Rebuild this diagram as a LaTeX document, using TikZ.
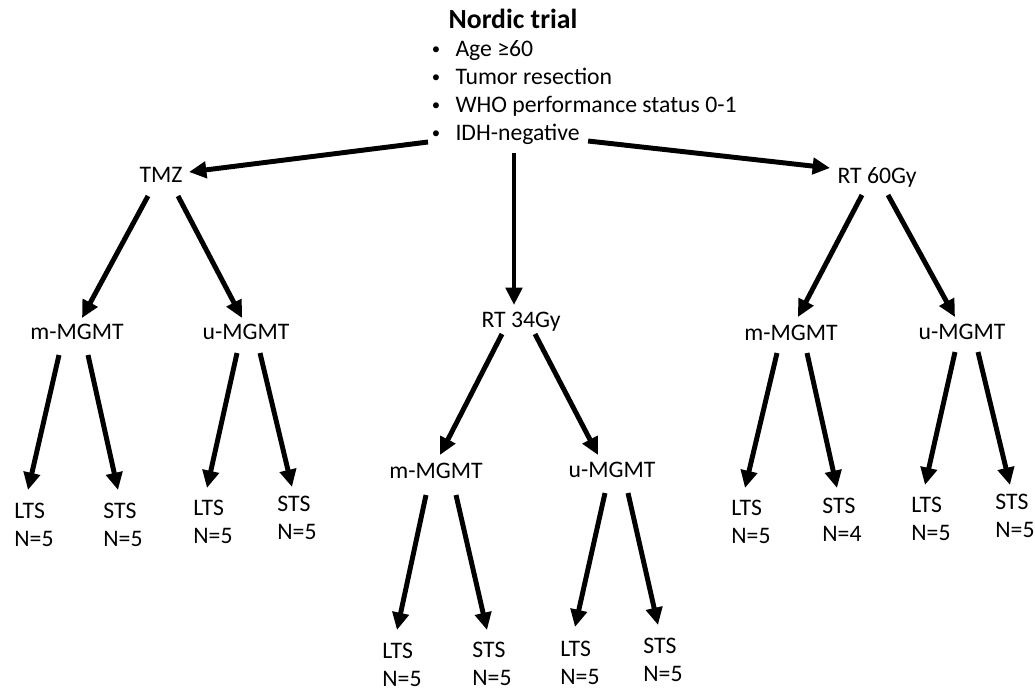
\documentclass[tikz,border=0pt]{standalone}
\usepackage{fontspec}
\setmainfont{Carlito}
\usetikzlibrary{arrows.meta}
\usetikzlibrary{calc}

\newcommand{\bul}{\makebox[12.7pt][l]{\hspace{0.8pt}\raisebox{0.9pt}{\fontsize{8.5}{8.5}\selectfont\textbullet}}}

\begin{document}
\begin{tikzpicture}[x=0.506pt, y=-0.506pt,
        font=\fontsize{12}{14.2}\selectfont,
        lbl/.style={inner sep=0pt, anchor=base},
        crit/.style={inner sep=0pt, anchor=base west},
        leaf/.style={inner sep=0pt, anchor=north west, align=left},
        arr/.style={line width=2.5pt, -{Triangle[length=8.8pt, width=8.2pt]}}]
    \useasboundingbox (0, 0) rectangle (1035, 691);

    % trial
    \node[lbl, font=\fontsize{14}{16}\selectfont\bfseries] (title) at (513, 28) {Nordic trial};
    \node[crit] (age) at (430, 56) {\bul Age ≥60};
    \node[crit] (resect) at (430, 84) {\bul Tumor resection};
    \node[crit] (who) at (430, 112) {\bul WHO performance status 0-1};
    \node[crit] (idh) at (430, 140) {\bul IDH-negative};

    % arms
    \node[lbl] (tmz) at (161, 182) {TMZ};
    \node[lbl] (rt34) at (521, 327) {RT 34Gy};
    \node[lbl] (rt60) at (877, 183) {RT 60Gy};

    \node[lbl] (mL) at (77, 339) {m-MGMT};
    \node[lbl] (uL) at (246, 339) {u-MGMT};
    \node[lbl] (mC) at (436, 478) {m-MGMT};
    \node[lbl] (uC) at (612, 477) {u-MGMT};
    \node[lbl] (mR) at (791, 340) {m-MGMT};
    \node[lbl] (uR) at (962, 339) {u-MGMT};

    % survivors
    \node[leaf] (lts1) at (14, 503) {LTS\\N=5};
    \node[leaf] (sts1) at (103, 503) {STS\\N=5};
    \node[leaf] (lts2) at (193, 500) {LTS\\N=5};
    \node[leaf] (sts2) at (277, 496) {STS\\N=5};
    \node[leaf] (lts3) at (382, 643) {LTS\\N=5};
    \node[leaf] (sts3) at (472, 642) {STS\\N=5};
    \node[leaf] (lts4) at (560, 641) {LTS\\N=5};
    \node[leaf] (sts4) at (643, 638) {STS\\N=5};
    \node[leaf] (lts5) at (731, 500) {LTS\\N=5};
    \node[leaf] (sts5) at (822, 498) {STS\\N=4};
    \node[leaf] (lts6) at (911, 497) {LTS\\N=5};
    \node[leaf] (sts6) at (995, 494) {STS\\N=5};

    \draw[arr] ($(idh.base west)+(-2, 2)$) -- ($(tmz.base)+(28, -10)$);
    \draw[arr] ($(idh.base west)+(84, 13)$) -- ($(rt34.base)+(-7, -22)$);
    \draw[arr] ($(idh.base east)+(8, 1)$) -- ($(rt60.base)+(-47, -15)$);

    \draw[arr] ($(tmz.base)+(-13, 14)$) -- ($(mL.base)+(5, -21)$);
    \draw[arr] ($(tmz.base)+(17, 14)$) -- ($(uL.base)+(-4, -21)$);
    \draw[arr] ($(rt34.base)+(-19, 7)$) -- ($(mC.base)+(4, -23)$);
    \draw[arr] ($(rt34.base)+(14, 7)$) -- ($(uC.base)+(-14, -22)$);
    \draw[arr] ($(rt60.base)+(-15, 12)$) -- ($(mR.base)+(7, -23)$);
    \draw[arr] ($(rt60.base)+(11, 12)$) -- ($(uR.base)+(-7, -22)$);

    \draw[arr] ($(mL.base)+(-18, 16)$) -- ($(lts1.north west)+(14, -13)$);
    \draw[arr] ($(mL.base)+(11, 16)$) -- ($(sts1.north west)+(15, -13)$);
    \draw[arr] ($(uL.base)+(-9, 14)$) -- ($(lts2.north west)+(14, -12)$);
    \draw[arr] ($(uL.base)+(14, 14)$) -- ($(sts2.north west)+(15, -9)$);
    \draw[arr] ($(mC.base)+(-10, 17)$) -- ($(lts3.north west)+(15, -13)$);
    \draw[arr] ($(mC.base)+(20, 17)$) -- ($(sts3.north west)+(15, -12)$);
    \draw[arr] ($(uC.base)+(-7, 16)$) -- ($(lts4.north west)+(15, -14)$);
    \draw[arr] ($(uC.base)+(16, 16)$) -- ($(sts4.north west)+(15, -13)$);
    \draw[arr] ($(mR.base)+(-14, 13)$) -- ($(lts5.north west)+(14, -12)$);
    \draw[arr] ($(mR.base)+(16, 13)$) -- ($(sts5.north west)+(15, -10)$);
    \draw[arr] ($(uR.base)+(-7, 13)$) -- ($(lts6.north west)+(14, -12)$);
    \draw[arr] ($(uR.base)+(16, 13)$) -- ($(sts6.north west)+(15, -9)$);
\end{tikzpicture}
\end{document}
